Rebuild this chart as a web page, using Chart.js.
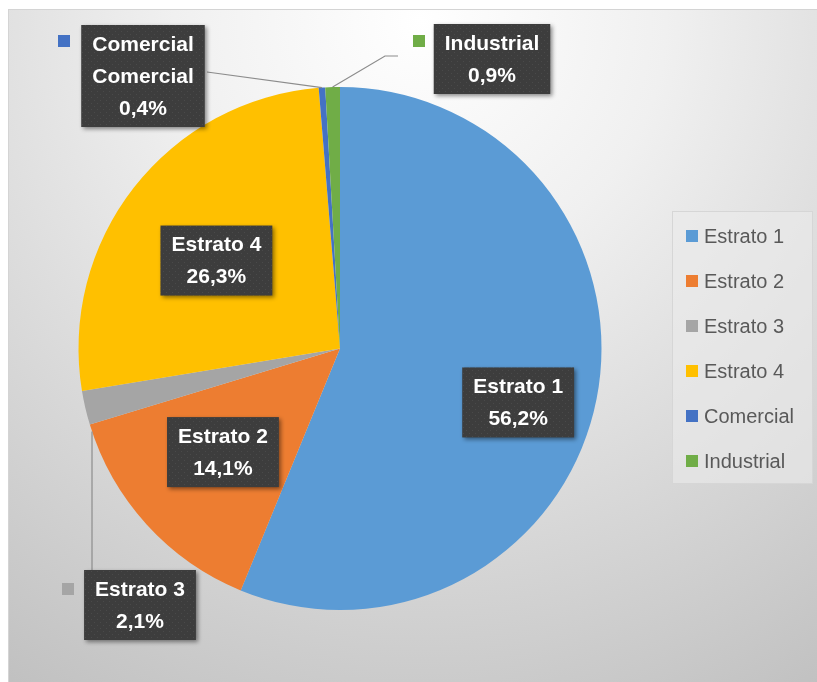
<!DOCTYPE html>
<html>
<head>
<meta charset="utf-8">
<script src="https://cdn.jsdelivr.net/npm/chart.js@4"></script>
<style>
html,body{margin:0;padding:0;background:#fff;}
canvas{display:block;}
</style>
</head>
<body>
<canvas id="pie" width="817" height="682"></canvas>
<script>
// datos
const categorias = ["Estrato 1","Estrato 2","Estrato 3","Estrato 4","Comercial","Industrial"];
const valores = [56.2,14.1,2.1,26.3,0.4,0.9];
const etiquetas = ["56,2%","14,1%","2,1%","26,3%","0,4%","0,9%"];
const colores = ["#5B9BD5","#ED7D31","#A5A5A5","#FFC000","#4472C4","#70AD47"];

const FONT = "'Liberation Sans', Arial, sans-serif";

/* patron oscuro de las etiquetas */
function makePattern(ctx){
const c=document.createElement("canvas");
c.width=6;c.height=6;
const p=c.getContext("2d");
p.fillStyle="#3d3d3d";p.fillRect(0,0,6,6);
p.fillStyle="#4a4a4a";p.fillRect(1,1,1,1);p.fillRect(4,4,1,1);
return ctx.createPattern(c,"repeat");
}

function drawBox(ctx,cx,cy,lines){
ctx.font="bold 21px "+FONT;
let w=0;
lines.forEach(l=>{w=Math.max(w,ctx.measureText(l).width);});
const lh=32;
const bw=w+22, bh=lines.length*lh+6;
const x=cx-bw/2, y=cy-bh/2;
ctx.save();
ctx.shadowColor="rgba(0,0,0,0.45)";
ctx.shadowBlur=4;ctx.shadowOffsetX=2;ctx.shadowOffsetY=2;
ctx.fillStyle=makePattern(ctx);
ctx.fillRect(x,y,bw,bh);
ctx.restore();
ctx.fillStyle="#ffffff";
ctx.textAlign="center";ctx.textBaseline="middle";
lines.forEach((l,i)=>{ctx.fillText(l,cx,y+4+lh/2+i*lh);});
return {x:x,y:y,w:bw,h:bh};
}

function key(ctx,x,y,col){
ctx.fillStyle=col;ctx.fillRect(x,y,12,12);
}

/* fondo del grafico */
const fondo={
id:"fondo",
beforeDraw(chart){
const ctx=chart.ctx;
ctx.save();
const g=ctx.createRadialGradient(420,20,0,420,20,820);
g.addColorStop(0,"#ffffff");
g.addColorStop(0.3,"#f0f0f0");
g.addColorStop(1,"#bdbdbd");
ctx.fillStyle=g;
ctx.fillRect(8,9,809,673);
ctx.strokeStyle="#d4d4d4";ctx.lineWidth=1;
ctx.strokeRect(8.5,9.5,810,674);
ctx.restore();
}
};

/* etiquetas + leyenda */
const rotulos={
id:"rotulos",
afterDraw(chart){
const ctx=chart.ctx;
const arcs=chart.getDatasetMeta(0).data;
const a0=arcs[0];
const cx=a0.x, cy=a0.y, R=a0.outerRadius;
const edge=i=>{
const a=arcs[i];const m=(a.startAngle+a.endAngle)/2;
return {x:cx+Math.cos(m)*R,y:cy+Math.sin(m)*R};
};
const inside=(i,f)=>{
const a=arcs[i];const m=(a.startAngle+a.endAngle)/2;
return {x:cx+Math.cos(m)*R*f,y:cy+Math.sin(m)*R*f};
};
ctx.save();

// lineas guia
ctx.strokeStyle="#8c8c8c";ctx.lineWidth=1.2;
let e=edge(4);
ctx.beginPath();ctx.moveTo(207,72);ctx.lineTo(e.x,e.y);ctx.stroke();
e=edge(5);
ctx.beginPath();ctx.moveTo(e.x,e.y);ctx.lineTo(385,56);ctx.lineTo(398,56);ctx.stroke();
const lx=92;
const ly=cy+Math.sqrt(R*R-(lx-cx)*(lx-cx));
ctx.beginPath();ctx.moveTo(lx,570);ctx.lineTo(lx,ly);ctx.stroke();

// etiquetas dentro (factor radial, ajuste x/y)
[[0,0.71,-4,18],[1,0.6,-1,-2],[3,0.59,-2,7]].forEach(([i,f,dx,dy])=>{
const p=inside(i,f);
drawBox(ctx,p.x+dx,p.y+dy,[categorias[i],etiquetas[i]]);
});

// etiquetas fuera
key(ctx,62,583,colores[2]);
drawBox(ctx,140,605,[categorias[2],etiquetas[2]]);
key(ctx,58,35,colores[4]);
drawBox(ctx,143,76,[categorias[4],categorias[4],etiquetas[4]]);
key(ctx,413,35,colores[5]);
drawBox(ctx,492,59,[categorias[5],etiquetas[5]]);

// leyenda
ctx.fillStyle="rgba(235,235,235,0.6)";
ctx.fillRect(672,211,140,272);
ctx.strokeStyle="#d6d6d6";ctx.lineWidth=1;
ctx.strokeRect(672.5,211.5,140,272);
ctx.font="20px "+FONT;
ctx.textAlign="left";ctx.textBaseline="middle";
categorias.forEach((c,i)=>{
const y=236+i*45;
key(ctx,686,y-6,colores[i]);
ctx.fillStyle="#595959";
ctx.fillText(c,704,y+1);
});
ctx.restore();
}
};

new Chart(document.getElementById("pie"),{
type:"pie",
data:{
labels:categorias,
datasets:[{data:valores,backgroundColor:colores,borderWidth:0}]
},
options:{
responsive:false,
devicePixelRatio:1,
animation:false,
layout:{padding:{left:78,right:215,top:87,bottom:72}},
plugins:{legend:{display:false},tooltip:{enabled:false}}
},
plugins:[fondo,rotulos]
});
</script>
</body>
</html>
